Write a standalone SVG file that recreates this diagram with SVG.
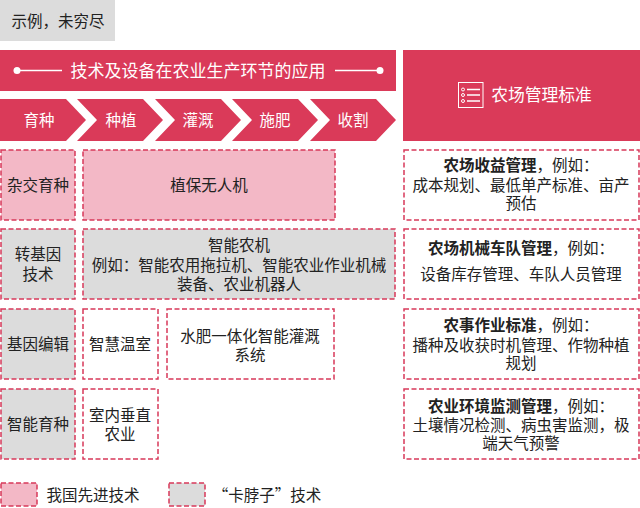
<svg xmlns="http://www.w3.org/2000/svg" width="640" height="508" viewBox="0 0 640 508">
<style>
text{font-family:"Noto Sans CJK SC","Liberation Sans",sans-serif;font-size:15.500px;fill:#222;text-anchor:middle}
.w{fill:#fff}
.r{fill:#da3a59}
.b{stroke:#d8395a;stroke-width:1.5;stroke-dasharray:5 2.5;fill:#fff}
.p{fill:#f3b8c6}
.g{fill:#dcdcdc}
.b.p{fill:#f3b8c6}
.b.g{fill:#dcdcdc}
.l{stroke:#fff;stroke-width:1.3;fill:none}
</style>
<g id="note"><rect x="0" y="0" width="115" height="41" class="g"/><text x="58" y="27">示例，未穷尽</text></g>
<g id="header"><rect x="0" y="50" width="396" height="41" class="r"/>
<path class="l" d="M17 70.500H62M335 70.500H380"/><circle cx="17" cy="70.500" r="3.500" fill="#fff"/><circle cx="380" cy="70.500" r="3.500" fill="#fff"/>
<text x="198" y="77" class="w" style="font-size:17px">技术及设备在农业生产环节的应用</text></g>
<g id="s1"><path class="r" d="M0 99H66L86 120L66 141H0Z"/><text x="39" y="126" class="w">育种</text></g>
<g id="s2"><path class="r" d="M77 99H143L163 120L143 141H77L97 120Z"/><text x="121" y="126" class="w">种植</text></g>
<g id="s3"><path class="r" d="M155 99H221L241 120L221 141H155L175 120Z"/><text x="198" y="126" class="w">灌溉</text></g>
<g id="s4"><path class="r" d="M232 99H298L318 120L298 141H232L252 120Z"/><text x="275" y="126" class="w">施肥</text></g>
<g id="s5"><path class="r" d="M310 99H376L396 120L376 141H310L330 120Z"/><text x="353" y="126" class="w">收割</text></g>
<g id="mgmt"><rect x="403" y="50" width="237" height="91" class="r"/>
<rect x="458.500" y="82.500" width="24.500" height="25" fill="none" stroke="#fff" stroke-width="1"/>
<path class="l" stroke-width="1" d="M467 89.500H480M467 95H480M467 101H480"/>
<g fill="none" stroke="#fff" stroke-width="1"><circle cx="463" cy="89.500" r="1.500"/><circle cx="463" cy="95" r="1.500"/><circle cx="463" cy="101" r="1.500"/></g>
<text x="541.500" y="101" class="w" style="font-size:16.800px">农场管理标准</text></g>
<g id="a1"><rect x="1" y="150" width="74" height="70" class="b p"/><text x="38" y="191">杂交育种</text></g>
<g id="a2"><rect x="83" y="150" width="252" height="70" class="b p"/><text x="209" y="191">植保无人机</text></g>
<g id="m1"><rect x="404" y="150" width="235" height="70" class="b"/><text x="521" y="171"><tspan font-weight="700">农场收益管理</tspan>，例如：</text><text x="521" y="191">成本规划、最低单产标准、亩产</text><text x="521" y="209">预估</text></g>
<g id="b1"><rect x="1" y="229" width="74" height="70" class="b g"/><text x="38" y="260">转基因</text><text x="38" y="280">技术</text></g>
<g id="b2"><rect x="83" y="229" width="312" height="70" class="b g"/><text x="239" y="251">智能农机</text><text x="239" y="271">例如：智能农用拖拉机、智能农业作业机械</text><text x="239" y="290">装备、农业机器人</text></g>
<g id="m2"><rect x="404" y="229" width="235" height="70" class="b"/><text x="521" y="254"><tspan font-weight="700">农场机械车队管理</tspan>，例如：</text><text x="521" y="280">设备库存管理、车队人员管理</text></g>
<g id="c1"><rect x="1" y="309" width="74" height="70" class="b g"/><text x="38" y="350">基因编辑</text></g>
<g id="c2"><rect x="83" y="309" width="75" height="70" class="b"/><text x="120" y="350">智慧温室</text></g>
<g id="c3"><rect x="167" y="309" width="167" height="70" class="b"/><text x="250" y="342">水肥一体化智能灌溉</text><text x="250" y="361">系统</text></g>
<g id="m3"><rect x="404" y="309" width="235" height="70" class="b"/><text x="521" y="331"><tspan font-weight="700">农事作业标准</tspan>，例如：</text><text x="521" y="351">播种及收获时机管理、作物种植</text><text x="521" y="369">规划</text></g>
<g id="d1"><rect x="1" y="389" width="74" height="70" class="b g"/><text x="38" y="430">智能育种</text></g>
<g id="d2"><rect x="83" y="389" width="75" height="70" class="b"/><text x="120" y="421">室内垂直</text><text x="120" y="440">农业</text></g>
<g id="m4"><rect x="404" y="389" width="235" height="70" class="b"/><text x="521" y="412"><tspan font-weight="700">农业环境监测管理</tspan>，例如：</text><text x="521" y="431">土壤情况检测、病虫害监测，极</text><text x="521" y="449">端天气预警</text></g>
<g id="legend1"><rect x="1" y="483" width="36" height="23" class="b p"/><text x="93" y="501">我国先进技术</text></g>
<g id="legend2"><rect x="169" y="483" width="36" height="23" class="b g"/><text x="267" y="501">“卡脖子”技术</text></g>
</svg>
